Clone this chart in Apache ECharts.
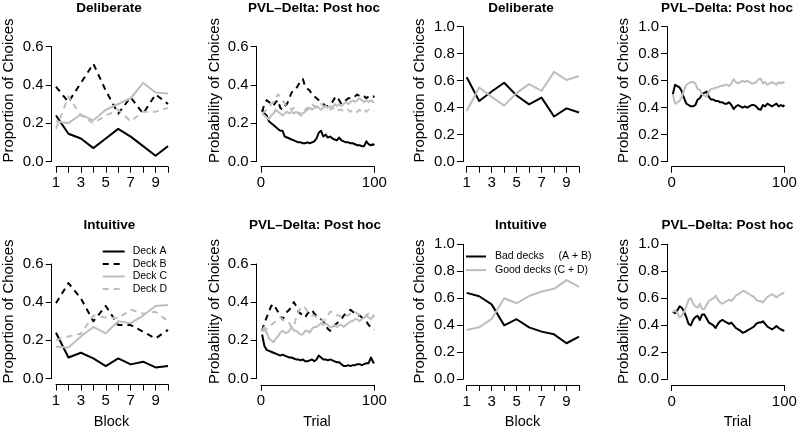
<!DOCTYPE html>
<html><head><meta charset="utf-8">
<script src="https://cdn.jsdelivr.net/npm/echarts@6/dist/echarts.min.js"></script>
<style>html,body{margin:0;padding:0;background:#fff}#c{width:798px;height:431px}</style>
</head><body><div id="c"></div>
<script>
// ---------- data ----------
const blocks = ['1','2','3','4','5','6','7','8','9','10'];
const trials = [1,3,5,7,9,11,13,15,17,19,21,23,25,27,29,31,33,35,37,39,41,43,45,47,49,51,53,55,57,59,61,63,65,67,69,71,73,75,77,79,81,83,85,87,89,91,93,95,97,99,100];
const yTicksSmall = [0, 0.6, 0.2];
const yTicksLarge = [0, 1.0, 0.2];
const trialTicks = [0, 100, 100];

// Deliberate, observed proportions per block
const delibA = [0.24, 0.145, 0.12, 0.07, 0.12, 0.17, 0.13, 0.08, 0.03, 0.08];
const delibB = [0.39, 0.31, 0.41, 0.51, 0.37, 0.25, 0.335, 0.25, 0.35, 0.30];
const delibC = [0.21, 0.20, 0.245, 0.215, 0.27, 0.30, 0.33, 0.41, 0.36, 0.355];
const delibD = [0.17, 0.34, 0.24, 0.20, 0.24, 0.27, 0.21, 0.26, 0.26, 0.28];
const delibBad  = [0.625, 0.45, 0.52, 0.585, 0.49, 0.425, 0.475, 0.335, 0.395, 0.365];
const delibGood = [0.375, 0.55, 0.48, 0.415, 0.51, 0.575, 0.525, 0.665, 0.605, 0.635];

// Intuitive, observed proportions per block
const intuitA = [0.24, 0.11, 0.135, 0.105, 0.065, 0.105, 0.074, 0.088, 0.058, 0.065];
const intuitB = [0.395, 0.50, 0.42, 0.30, 0.38, 0.28, 0.28, 0.245, 0.21, 0.255];
const intuitC = [0.167, 0.163, 0.22, 0.27, 0.237, 0.30, 0.29, 0.33, 0.38, 0.385];
const intuitD = [0.20, 0.22, 0.235, 0.33, 0.32, 0.315, 0.36, 0.34, 0.35, 0.30];
const intuitBad  = [0.64, 0.615, 0.555, 0.40, 0.445, 0.385, 0.353, 0.333, 0.267, 0.316];
const intuitGood = [0.365, 0.385, 0.447, 0.60, 0.563, 0.617, 0.65, 0.67, 0.735, 0.685];

// PVL-Delta post hoc, Deliberate (per trial)
const pvlDelibA = [.27,.25,.24,.21,.20,.19,.18,.17,.16,.16, .13,.125,.12,.115,.11,.105,.10,.10,.095,.095, .10,.095,.10,.105,.12,.15,.16,.13,.14,.125, .13,.12,.115,.11,.125,.11,.105,.10,.10,.095, .095,.09,.085,.085,.08,.08,.105,.09,.085,.09, .085];
const pvlDelibB = [.26,.30,.32,.31,.30,.29,.31,.32,.28,.27, .29,.30,.33,.36,.37,.38,.40,.42,.43,.39, .38,.37,.35,.34,.33,.32,.31,.30,.29,.29, .30,.31,.33,.34,.32,.30,.31,.32,.33,.33, .34,.34,.35,.34,.345,.34,.33,.34,.335,.34, .335];
const pvlDelibC = [.25,.24,.23,.22,.24,.25,.27,.26,.25,.24, .25,.26,.25,.26,.25,.26,.25,.25,.25,.26, .27,.28,.27,.28,.29,.28,.27,.28,.29,.28, .29,.28,.30,.29,.30,.29,.30,.31,.30,.31, .32,.31,.32,.33,.32,.31,.32,.31,.32,.31, .31];
const pvlDelibD = [.25,.26,.27,.28,.30,.31,.33,.35,.34,.32, .30,.29,.28,.27,.28,.27,.26,.24,.24,.27, .28,.29,.30,.29,.28,.29,.30,.29,.28,.27, .27,.28,.27,.26,.27,.27,.26,.27,.27,.26, .27,.26,.26,.27,.26,.27,.26,.27,.26,.265, .265];
const pvlDelibBad  = [.50,.57,.56,.55,.52,.47,.43,.42,.41,.41, .42,.46,.47,.50,.51,.52,.48,.46,.46,.45, .45,.44,.44,.43,.43,.44,.42,.39,.41,.42, .41,.40,.41,.40,.41,.42,.42,.41,.39,.385, .42,.41,.43,.42,.41,.42,.43,.41,.42,.41, .42];
const pvlDelibGood = [.50,.43,.44,.45,.48,.53,.57,.58,.59,.59, .58,.54,.53,.50,.49,.48,.52,.54,.54,.55, .55,.56,.56,.57,.57,.56,.58,.61,.59,.58, .59,.60,.59,.60,.59,.58,.58,.59,.61,.615, .58,.59,.57,.58,.59,.58,.57,.59,.58,.59, .58];

// PVL-Delta post hoc, Intuitive (per trial)
const pvlIntuitA = [.23,.17,.15,.145,.14,.135,.13,.125,.12,.125, .12,.115,.11,.11,.105,.10,.10,.095,.10,.09, .09,.095,.10,.09,.10,.12,.11,.10,.10,.095, .10,.095,.09,.085,.085,.075,.065,.065,.07,.065, .07,.07,.075,.075,.07,.075,.08,.08,.11,.085, .08];
const pvlIntuitB = [.25,.29,.32,.35,.38,.39,.37,.35,.33,.31, .33,.35,.36,.38,.40,.38,.35,.34,.33,.32, .34,.35,.36,.34,.33,.32,.31,.30,.28,.26, .25,.26,.28,.29,.30,.31,.33,.34,.35,.36, .35,.34,.33,.33,.32,.31,.30,.28,.27,.26, .255];
const pvlIntuitC = [.25,.27,.24,.21,.20,.19,.21,.22,.24,.25, .24,.24,.25,.27,.25,.25,.24,.23,.23,.25, .25,.24,.26,.27,.27,.28,.29,.28,.29,.28, .27,.27,.28,.27,.28,.28,.27,.28,.29,.30, .30,.31,.31,.30,.31,.32,.33,.32,.31,.33, .32];
const pvlIntuitD = [.25,.25,.26,.27,.28,.29,.30,.31,.32,.31, .30,.30,.29,.27,.27,.32,.35,.37,.38,.37, .35,.34,.33,.33,.32,.31,.31,.30,.31,.33, .35,.35,.34,.33,.33,.32,.33,.33,.33,.34, .34,.35,.34,.33,.33,.32,.33,.34,.33,.33, .33];
const pvlIntuitBad  = [.50,.49,.51,.54,.53,.50,.46,.41,.40,.44, .46,.47,.44,.48,.48,.45,.42,.41,.40,.38, .41,.43,.44,.43,.42,.41,.42,.40,.38,.37, .36,.345,.35,.36,.37,.38,.39,.41,.42,.42, .43,.41,.39,.38,.37,.38,.395,.38,.37,.36, .365];
const pvlIntuitGood = [.50,.51,.49,.46,.47,.50,.54,.59,.60,.56, .54,.53,.56,.52,.52,.55,.58,.59,.60,.62, .59,.57,.56,.57,.58,.59,.58,.60,.62,.63, .64,.655,.65,.64,.63,.62,.61,.59,.58,.58, .57,.59,.61,.62,.63,.62,.605,.62,.63,.64, .635];

const deckNames = ['Deck A','Deck B','Deck C','Deck D'];
const sumNames = ['Bad decks     (A + B)','Good decks (C + D)'];

// ---------- styling / layout ----------
const FONT = "'Liberation Sans', Arial, Helvetica, sans-serif";
const BLACK = '#000', GRAY = '#bebebe';
const DASH = [6,5];
const TICK_FS = 15;

const deckStyles = [[BLACK,'solid'],[BLACK,DASH],[GRAY,'solid'],[GRAY,DASH]];
const sumStyles = [[BLACK,'solid'],[GRAY,'solid']];

const panels = [
  {grid:{left:56, top:46.5, width:112, height:115}, kind:'block', y:yTicksSmall, xOff:5.2, yOff:4.3,
   names:deckNames, styles:deckStyles, data:[delibA,delibB,delibC,delibD]},
  {grid:{left:261, top:46.5, width:113.3, height:115}, kind:'trial', y:yTicksSmall, xOff:5.2, yOff:4.3,
   names:deckNames, styles:deckStyles, data:[pvlDelibA,pvlDelibB,pvlDelibC,pvlDelibD]},
  {grid:{left:466.7, top:26.7, width:112.3, height:135}, kind:'block', y:yTicksLarge, xOff:5, yOff:3.8,
   names:sumNames, styles:sumStyles, data:[delibBad,delibGood]},
  {grid:{left:671.7, top:26.7, width:112.6, height:135}, kind:'trial', y:yTicksLarge, xOff:5, yOff:4.6,
   names:sumNames, styles:sumStyles, data:[pvlDelibBad,pvlDelibGood]},
  {grid:{left:56, top:264, width:112, height:114.5}, kind:'block', y:yTicksSmall, xOff:6, yOff:4.3,
   names:deckNames, styles:deckStyles, data:[intuitA,intuitB,intuitC,intuitD]},
  {grid:{left:261, top:264, width:113.3, height:114.5}, kind:'trial', y:yTicksSmall, xOff:6.3, yOff:4.3,
   names:deckNames, styles:deckStyles, data:[pvlIntuitA,pvlIntuitB,pvlIntuitC,pvlIntuitD]},
  {grid:{left:466.7, top:244.3, width:112.3, height:135}, kind:'block', y:yTicksLarge, xOff:5.7, yOff:3.8,
   names:sumNames, styles:sumStyles, data:[intuitBad,intuitGood]},
  {grid:{left:671.7, top:244.3, width:112.6, height:135}, kind:'trial', y:yTicksLarge, xOff:5.7, yOff:4.6,
   names:sumNames, styles:sumStyles, data:[pvlIntuitBad,pvlIntuitGood]}
];

const axisCommon = {
  axisLine:{show:true, onZero:false, lineStyle:{color:BLACK, width:1}},
  axisTick:{show:true, inside:false, length:6, lineStyle:{color:BLACK, width:1}},
  splitLine:{show:false}
};

const grids = [], xAxes = [], yAxes = [], series = [];
panels.forEach((p, i) => {
  grids.push(Object.assign({containLabel:false, outerBoundsMode:'none'}, p.grid));
  if (p.kind === 'block') {
    xAxes.push(Object.assign({}, axisCommon, {
      type:'category', gridIndex:i, data:blocks, boundaryGap:false, offset:p.xOff,
      axisTick:{show:true, interval:0, length:6, lineStyle:{color:BLACK, width:1}},
      axisLabel:{interval:1, margin:9, fontSize:TICK_FS, color:BLACK, fontFamily:FONT}
    }));
  } else {
    xAxes.push(Object.assign({}, axisCommon, {
      type:'value', gridIndex:i, min:trialTicks[0], max:trialTicks[1], interval:trialTicks[2], offset:p.xOff,
      axisLabel:{margin:9, fontSize:TICK_FS, color:BLACK, fontFamily:FONT, showMinLabel:true, showMaxLabel:true}
    }));
  }
  yAxes.push(Object.assign({}, axisCommon, {
    type:'value', gridIndex:i, min:p.y[0], max:p.y[1], interval:p.y[2], offset:p.yOff,
    axisLabel:{margin:8, fontSize:TICK_FS, color:BLACK, fontFamily:FONT, formatter:v => v.toFixed(1)}
  }));
  p.data.forEach((arr, k) => {
    const [col, dash] = p.styles[k];
    series.push({
      type:'line', name:p.names[k], xAxisIndex:i, yAxisIndex:i,
      data: p.kind === 'block' ? arr : trials.map((t, j) => [t, arr[j]]),
      symbol:'none', showSymbol:false, clip:false, silent:true, animation:false,
      lineStyle:{color:col, width:2, type:dash, cap:'butt', join:'round'},
      itemStyle:{color:col}, emphasis:{disabled:true}
    });
  });
});

function txt(x, y, text, size, weight, rot) {
  return {type:'text', x:x, y:y, rotation:rot || 0, silent:true,
    style:{text:text, font:(weight||'normal') + ' ' + size + 'px ' + FONT, fill:BLACK,
      align:'center', verticalAlign:'middle', textAlign:'center', textVerticalAlign:'middle'}};
}
const R = Math.PI / 2;
const graphics = [
  txt(109, 8, 'Deliberate', 13.5, 'bold'),
  txt(314, 8.5, 'PVL\u2013Delta: Post hoc', 13.5, 'bold'),
  txt(521, 8, 'Deliberate', 13.5, 'bold'),
  txt(727, 8.5, 'PVL\u2013Delta: Post hoc', 13.5, 'bold'),
  txt(109.5, 225.5, 'Intuitive', 13.5, 'bold'),
  txt(315, 225.5, 'PVL\u2013Delta: Post hoc', 13.5, 'bold'),
  txt(521, 225.5, 'Intuitive', 13.5, 'bold'),
  txt(727.5, 225.5, 'PVL\u2013Delta: Post hoc', 13.5, 'bold'),
  txt(9, 90.5, 'Proportion of Choices', 15, 'normal', R),
  txt(214.5, 90.5, 'Probability of Choices', 15, 'normal', R),
  txt(419.5, 90.5, 'Proportion of Choices', 15, 'normal', R),
  txt(624, 90.5, 'Probability of Choices', 15, 'normal', R),
  txt(9, 311.5, 'Proportion of Choices', 15, 'normal', R),
  txt(214.5, 311.5, 'Probability of Choices', 15, 'normal', R),
  txt(419.5, 311.5, 'Proportion of Choices', 15, 'normal', R),
  txt(624, 311.5, 'Probability of Choices', 15, 'normal', R),
  txt(111.5, 422, 'Block', 14.5),
  txt(317, 422, 'Trial', 14.5),
  txt(522.5, 422, 'Block', 14.5),
  txt(737.5, 422, 'Trial', 14.5)
];

const legendText = {fontSize:10.5, color:BLACK, fontFamily:FONT};
const hiddenSymbol = {opacity:0, borderWidth:0};
const option = {
  animation:false,
  backgroundColor:'#fff',
  textStyle:{fontFamily:FONT, color:BLACK},
  grid:grids, xAxis:xAxes, yAxis:yAxes, series:series,
  legend:[
    {data:deckNames, orient:'vertical', left:101.7, top:246, padding:0,
     itemWidth:22, itemHeight:10, itemGap:1.5, selectedMode:false,
     itemStyle:hiddenSymbol,
     textStyle:Object.assign({padding:[0,0,0,3]}, legendText)},
    {data:sumNames, orient:'vertical', left:465, top:251, padding:0,
     itemWidth:20, itemHeight:10, itemGap:2.6, selectedMode:false,
     itemStyle:hiddenSymbol,
     textStyle:Object.assign({padding:[0,0,0,4]}, legendText)}
  ],
  graphic:graphics
};
const chart = echarts.init(document.getElementById('c'), null, {renderer:'canvas'});
chart.setOption(option);
</script>
</body></html>
